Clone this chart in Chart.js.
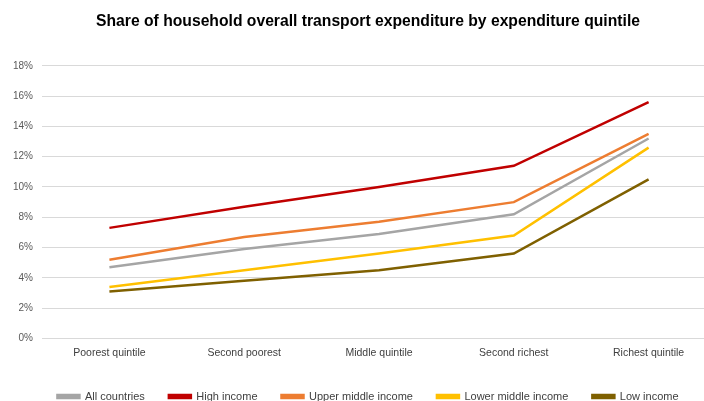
<!DOCTYPE html>
<html>
<head>
<meta charset="utf-8">
<script src="https://cdn.jsdelivr.net/npm/chart.js@4/dist/chart.umd.min.js"></script>
<style>
	html, body { margin: 0; padding: 0; background: #fff; overflow: hidden; }
	#grafico { display: block; }
</style>
</head>
<body>
<canvas id="grafico" width="744" height="412"></canvas>
<script>
var quintiles = ["Poorest quintile", "Second poorest", "Middle quintile", "Second richest", "Richest quintile"];
var yTicks = [0, 2, 4, 6, 8, 10, 12, 14, 16, 18];

// share of transport spending, % of household expenditure
var allCountries = [4.7, 5.9, 6.9, 8.2, 13.2];
var highIncome = [7.3, 8.7, 10.0, 11.4, 15.6];
var upperMiddle = [5.2, 6.7, 7.7, 9.0, 13.5];
var lowerMiddle = [3.4, 4.5, 5.6, 6.8, 12.6];
var lowIncome = [3.1, 3.8, 4.5, 5.6, 10.5];

function serie(label, valores, color)
{
	return {
		label: label,
		data: valores,
		borderColor: color,
		backgroundColor: color,
		borderWidth: 2.5,
		pointRadius: 0,
		tension: 0,
		fill: false
	};
}

var fuente = "'Liberation Sans', Arial, sans-serif";

var ctx = document.getElementById("grafico");
var myChart = new Chart(ctx, {
	type: 'line',
	data: {
		labels: quintiles,
		datasets: [
			serie("All countries", allCountries, "#A5A5A5"),
			serie("High income", highIncome, "#C00000"),
			serie("Upper middle income", upperMiddle, "#ED7D31"),
			serie("Lower middle income", lowerMiddle, "#FFC000"),
			serie("Low income", lowIncome, "#7F6000")
		]
	},
	options: {
		responsive: false,
		devicePixelRatio: 1,
		animation: false,
		layout: {
			padding: { left: 4, right: 12, top: 10, bottom: 0 }
		},
		plugins: {
			title: {
				display: true,
				text: "Share of household overall transport expenditure by expenditure quintile",
				color: "#000",
				font: { family: fuente, size: 15.7, weight: 'bold' },
				padding: { top: 2, bottom: 35 }
			},
			legend: {
				position: 'bottom',
				labels: {
					boxWidth: 22,
					boxHeight: 3,
					padding: 24,
					color: "#404040",
					font: { family: fuente, size: 11 }
				}
			},
			tooltip: { enabled: false }
		},
		scales: {
			x: {
				offset: true,
				grid: { display: false, drawTicks: false },
				border: { display: false },
				ticks: {
					color: "#404040",
					padding: 8,
					maxRotation: 0,
					font: { family: fuente, size: 10.5 }
				}
			},
			y: {
				min: yTicks[0],
				max: yTicks[yTicks.length - 1],
				afterBuildTicks: function(eje) {
					eje.ticks = yTicks.map(function(v) { return { value: v }; });
				},
				grid: { color: "#D9D9D9", lineWidth: 1, drawTicks: false },
				border: { display: false },
				ticks: {
					color: "#595959",
					padding: 9,
					font: { family: fuente, size: 10 },
					callback: function(v) { return v + "%"; }
				}
			},
			// empty strip on the right so the plot runs past the title's centre
			derecha: {
				type: 'linear',
				position: 'right',
				grid: { display: false },
				border: { display: false },
				ticks: { display: false },
				afterFit: function(eje) { eje.width = 16; }
			}
		}
	}
});
</script>
</body>
</html>
